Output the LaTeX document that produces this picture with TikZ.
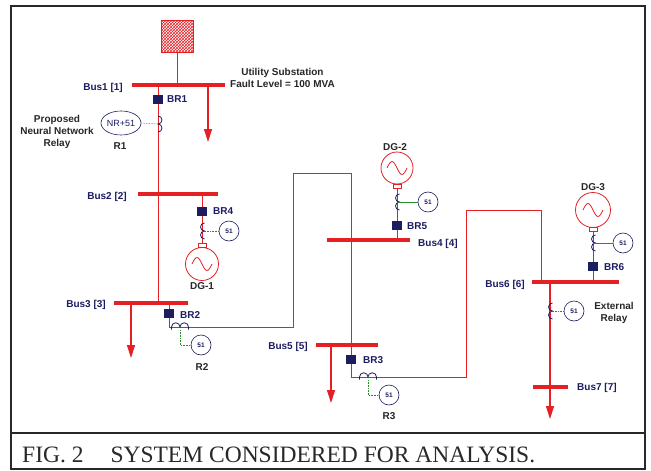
\documentclass[tikz,border=0pt]{standalone}
\usepackage{fontspec}
\setmainfont{Liberation Serif}
\setsansfont{Liberation Sans}
\usepackage{xcolor}
\usepackage{tikz}
\usetikzlibrary{arrows.meta,calc,positioning,patterns}
\usetikzlibrary{shapes.geometric}
\usetikzlibrary{backgrounds}
\definecolor{busred}{RGB}{228,32,36}
\definecolor{navyblue}{RGB}{28,28,96}
\definecolor{relaygreen}{RGB}{40,140,40}
\definecolor{framegray}{RGB}{40,40,40}

\begin{document}
\begin{tikzpicture}[
    x=1pt, y=-1pt,
    nosep/.style={inner sep=0},
    busbar/.style={rectangle, fill=busred, nosep, minimum height=3.6},
    feeder/.style={draw=busred, line width=1.0},
    loadarrow/.style={draw=busred, line width=1.3, -{Triangle[width=8,length=13]}},
    breaker/.style={rectangle, fill=navyblue, nosep, minimum width=10.5, minimum height=9},
    tag/.style={font=\sffamily\bfseries\fontsize{10}{12}\selectfont, text=navyblue, nosep},
    note/.style={font=\sffamily\bfseries\fontsize{10}{12.4}\selectfont, text=black!85, nosep, align=center},
    relay/.style={circle, draw=navyblue, semithick, minimum size=20, nosep, font=\sffamily\bfseries\fontsize{6.5}{7}\selectfont, text=navyblue},
    sigline/.style={draw=relaygreen, densely dotted, semithick},
    ctcoil/.style={draw=navyblue, line width=0.8},
    gen/.style={circle, draw=busred, thick, nosep,
        path picture={\path[draw=busred, thick] ([xshift=-10pt]path picture bounding box.center) sin ++(5,-6.5) cos ++(5,6.5) sin ++(5,6.5) cos ++(5,-6.5);}},
    genbox/.style={rectangle, draw=busred, thick, minimum width=8, minimum height=4, nosep}]
\useasboundingbox (0,0) rectangle (651,471);

\path[draw, line width=2.2, framegray] (11,6) rectangle (645,469);
\path[draw, line width=2.6, framegray] (11,433) -- (645,433);
\node[anchor=base west, nosep, text=framegray, font=\fontsize{23.5}{28}\selectfont] (CAPTION) at (22,462) {FIG. 2\hspace{27pt}SYSTEM CONSIDERED FOR ANALYSIS.};

\node[rectangle, draw=busred, pattern=crosshatch, pattern color=busred, minimum size=32, nosep] (UTIL) at (177,36) {};
\node[note, anchor=west] (UTILL) at (230,78) {Utility Substation\\Fault Level = 100 MVA};

\node[busbar, minimum width=93] (BUS1) at (178.5,85) {};
\node[busbar, minimum width=80] (BUS2) at (178,194) {};
\node[busbar, minimum width=74] (BUS3) at (151,303) {};
\node[busbar, minimum width=83] (BUS4) at (368.5,240) {};
\node[busbar, minimum width=62] (BUS5) at (347,345) {};
\node[busbar, minimum width=87] (BUS6) at (575.5,282) {};
\node[busbar, minimum width=35] (BUS7) at (550.5,387) {};

\node[tag, anchor=east] (BUS1L) at (123,88) {Bus1 [1]};
\node[tag, anchor=east] (BUS2L) at (127,197) {Bus2 [2]};
\node[tag, anchor=east] (BUS3L) at (106,305) {Bus3 [3]};
\node[tag, anchor=west] (BUS4L) at (418,244) {Bus4 [4]};
\node[tag, anchor=east] (BUS5L) at (308,347) {Bus5 [5]};
\node[tag, anchor=east] (BUS6L) at (525,285) {Bus6 [6]};
\node[tag, anchor=west] (BUS7L) at (577,388) {Bus7 [7]};

\node[breaker] (BR1) at (158,99) {};
\node[breaker] (BR4) at (202,211) {};
\node[breaker] (BR2) at (169,313.5) {};
\node[breaker] (BR5) at (397,225) {};
\node[breaker] (BR3) at (351,359) {};
\node[breaker] (BR6) at (593,266) {};
\node[tag, anchor=west] (BR1L) at (167,99) {BR1};
\node[tag, anchor=west] (BR4L) at (213,211) {BR4};
\node[tag, anchor=west] (BR2L) at (180,315) {BR2};
\node[tag, anchor=west] (BR5L) at (407,226) {BR5};
\node[tag, anchor=west] (BR3L) at (363,360) {BR3};
\node[tag, anchor=west] (BR6L) at (604,267) {BR6};

\node[gen, minimum size=33] (DG1) at (202,264) {};
\node[gen, minimum size=32] (DG2) at (397,168) {};
\node[gen, minimum size=35] (DG3) at (593,210) {};
\node[genbox] (GB4) at (202,245.5) {};
\node[genbox] (GB5) at (397,186) {};
\node[genbox] (GB6) at (593,229.5) {};
\node[note] (DG1L) at (202,286) {DG-1};
\node[note] (DG2L) at (395,147) {DG-2};
\node[note] (DG3L) at (593,187) {DG-3};

\node[ellipse, draw=navyblue, semithick, minimum width=40, minimum height=24, nosep, font=\sffamily\fontsize{9}{10}\selectfont, text=navyblue] (NR) at (121,123) {NR+51};
\node[relay] (RL2) at (201,345) {51};
\node[relay] (RL3) at (389,395) {51};
\node[relay] (RL4) at (229,231) {51};
\node[relay] (RL5) at (428,202) {51};
\node[relay] (RL6) at (623,243) {51};
\node[relay] (RLX) at (574,311) {51};
\node[note] (R1L) at (120,146) {R1};
\node[note] (R2L) at (202,367) {R2};
\node[note] (R3L) at (389,416) {R3};
\node[note] (NRL) at (57,132) {Proposed\\Neural Network\\Relay};
\node[note] (RLXL) at (614,313) {External\\Relay};

\coordinate (CT1) at (158,124);
\coordinate (CT2) at (180,327);
\coordinate (CT3) at (368,377);
\coordinate (CT4) at (202,231);
\coordinate (CT5) at (397,202);
\coordinate (CT6) at (593,243);
\coordinate (CTX) at (550,311);
\coordinate (L1) at (208,142);
\coordinate (L3) at (131,358);
\coordinate (L5) at (331,403);
\coordinate (L6) at (550,419);
\coordinate (K1) at (293,327);
\coordinate (K2) at (293,173);
\coordinate (K3) at (351,173);
\coordinate (K4) at (466,377);
\coordinate (K5) at (466,210);
\coordinate (K6) at (541,210);

\begin{scope}[on background layer]
\path[feeder] (UTIL.south) -- (UTIL.south |- BUS1.center);
\path[feeder] (BUS1.center -| BR1) -- (BUS3.center -| BR1);
\path[feeder] (BUS2.center -| BR4) -- (GB4.north);
\path[feeder] (BUS3.center -| BR2) -- (BR2 |- K1) -- (K1) -- (K2) -- (K3) -- (K3 |- BUS5.center);
\path[feeder] (BUS5.center -| BR3) -- (BR3 |- K4) -- (K4) -- (K5) -- (K6) -- (K6 |- BUS6.center);
\path[feeder] (BUS4.center -| BR5) -- (GB5.south);
\path[feeder] (BUS6.center -| BR6) -- (GB6.south);
\path[loadarrow] (BUS1.center -| L1) -- (L1);
\path[loadarrow] (BUS3.center -| L3) -- (L3);
\path[loadarrow] (BUS5.center -| L5) -- (L5);
\path[loadarrow] (BUS6.center -| L6) -- (L6);
\end{scope}

\path[ctcoil] ($(CT1)+(0,-8)$) arc (-90:90:4) arc (-90:90:4);
\path[ctcoil] ($(CT2)+(-8.5,2.5)$) -- ++(0,-2.5) arc (180:360:4.25) arc (180:360:4.25) -- ++(0,2.5);
\path[ctcoil] ($(CT3)+(-8.5,2.5)$) -- ++(0,-2.5) arc (180:360:4.25) arc (180:360:4.25) -- ++(0,2.5);
\path[ctcoil] ($(CT4)+(2.5,-8)$) arc (-90:-270:4) arc (-90:-270:4);
\path[ctcoil] ($(CT5)+(2.5,-8)$) arc (-90:-270:4) arc (-90:-270:4);
\path[ctcoil] ($(CT6)+(2.5,-8)$) arc (-90:-270:4) arc (-90:-270:4);
\path[ctcoil] ($(CTX)+(2.5,-8)$) arc (-90:-270:4) arc (-90:-270:4);

\path[sigline] (NR.east) -- (CT1);
\path[sigline] ($(CT2)+(0,3)$) |- (RL2);
\path[sigline] ($(CT3)+(0,3)$) |- (RL3);
\path[sigline] (CT4) -- (RL4);
\path[draw=relaygreen, semithick] (CT5) -- (RL5);
\path[draw=relaygreen, semithick] (CT6) -- (RL6);
\path[sigline] (CTX) -- (RLX);

\end{tikzpicture}
\end{document}
